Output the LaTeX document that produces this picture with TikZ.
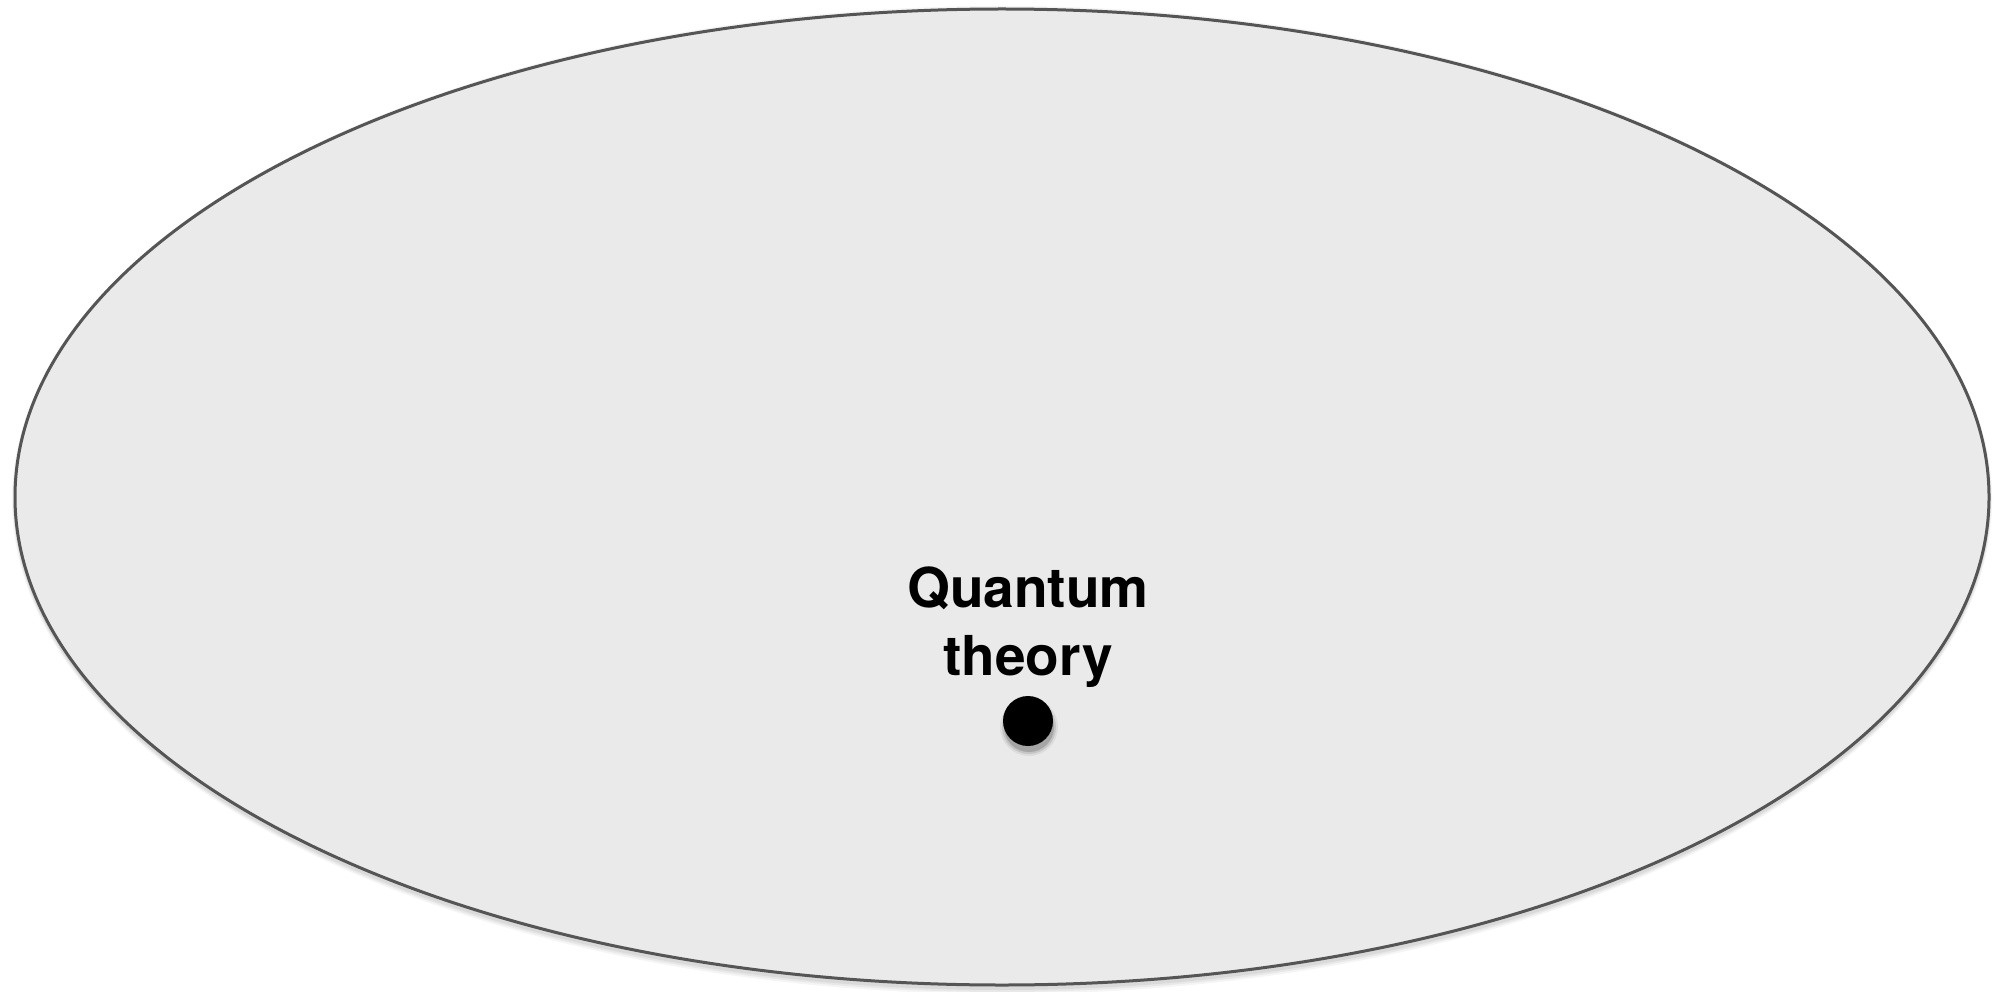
\documentclass[tikz,border=0pt]{standalone}
\usepackage{fontspec}
\setmainfont{TeX Gyre Heros}
\definecolor{ellfill}{HTML}{EAEAEA}
\definecolor{ellline}{HTML}{555555}
\begin{document}
\begin{tikzpicture}[x=1pt,y=1pt,
  label/.style={font=\fontsize{55}{68}\selectfont\bfseries,align=center,text=black,inner sep=0pt},
  pointdot/.style={circle,fill=black,minimum size=50pt,inner sep=0pt}]
\useasboundingbox (0,0) rectangle (2001,-992);
\fill[white] (0,0) rectangle (2001,-992);
% soft shadow of the region
\foreach \k/\o in {6/0.04,4/0.05,2/0.06}{
  \fill[black,opacity=\o] (1002,-500) ellipse [x radius=987+\k/2, y radius=488+\k];
}
\draw[draw=ellline,line width=3pt,fill=ellfill] (1002,-497) ellipse [x radius=987, y radius=488];
\coordinate (e) at (1002,-497);
\node[label,anchor=base] (q) at (1028,-607) {Quantum};
\node[label,anchor=base] (t) at (1028,-675) {theory};
% soft shadow of the dot
\foreach \r/\o in {29/0.06,27/0.10,25/0.16}{
  \fill[black,opacity=\o] (1029,-727) circle [radius=\r];
}
\node[pointdot] (d) at (1028,-721) {};
\end{tikzpicture}
\end{document}
